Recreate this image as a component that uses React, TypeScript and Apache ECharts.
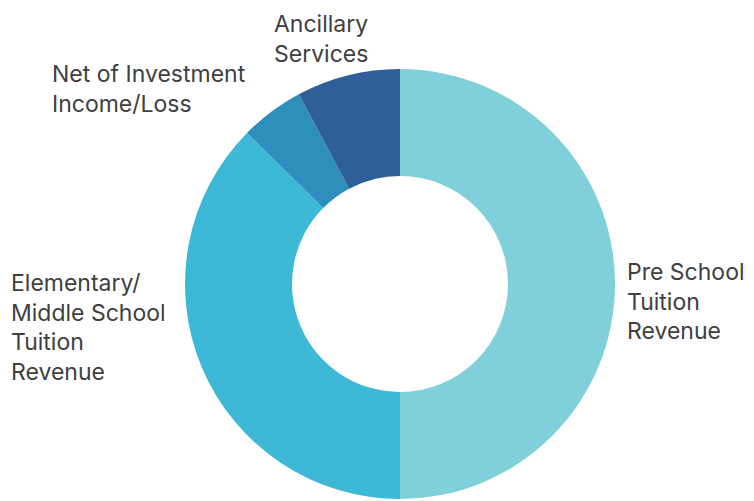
import React, { useEffect, useRef } from "react";
import * as echarts from "echarts";

const categories = [
  "Pre School\nTuition\nRevenue",
  "Elementary/\nMiddle School\nTuition\nRevenue",
  "Net of Investment\nIncome/Loss",
  "Ancillary\nServices",
];
const values = [50, 37.4, 4.8, 7.8];
const colors = ["#7fd0da", "#3db8d6", "#2e8fbd", "#2e5f98"];

// label anchor (left, first-line center) per slice
const labelPos: [number, number][] = [
  [627, 272],
  [11, 283],
  [52, 74],
  [274, 24],
];

export default function App() {
  const ref = useRef<HTMLDivElement>(null);
  useEffect(() => {
    if (!ref.current) return;
    const chart = echarts.init(ref.current, null, { renderer: "svg" });
    const lh = 29.5;
    chart.setOption({
      animation: false,
      backgroundColor: "#ffffff",
      series: [
        {
          type: "pie",
          center: [400, 284],
          radius: [108, 215],
          startAngle: 90,
          clockwise: true,
          silent: true,
          data: categories.map((c, i) => ({
            name: c,
            value: values[i],
            itemStyle: { color: colors[i] },
          })),
          label: {
            show: true,
            position: "outside",
            formatter: "{b}",
            color: "#404040",
            fontFamily: "Inter",
            fontSize: 23,
            lineHeight: lh,
            align: "left",
            overflow: "none",
          },
          labelLine: { show: false },
          labelLayout: (params: any) => {
            const p = labelPos[params.dataIndex];
            return {
              x: p[0],
              y: p[1] - lh / 2,
              align: "left",
              verticalAlign: "top",
            };
          },
        },
      ],
    });
    return () => chart.dispose();
  }, []);
  return (
    <div
      ref={ref}
      style={{ position: "fixed", left: 0, top: 0, width: 754, height: 501 }}
    />
  );
}
